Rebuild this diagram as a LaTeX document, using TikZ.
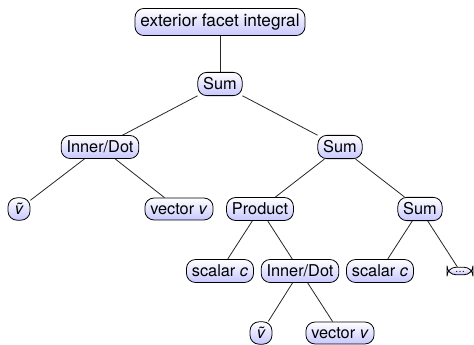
\documentclass[tikz,border=0pt]{standalone}
\usepackage{fontspec}
\setmainfont{TeX Gyre Heros}
\tikzset{
  tnode/.style={draw=black, line width=0.8pt, rounded corners=9pt,
    top color=white, bottom color=blue!22!white,
    font=\fontsize{16.3}{19}\selectfont, inner sep=5.4pt},
  rootnode/.style={tnode, font=\fontsize{17.2}{20}\selectfont},
  vnode/.style={tnode, minimum width=22pt},
  dotsnode/.style={tnode, font=\fontsize{10}{11}\selectfont, inner ysep=2pt,
    text height=3.5pt, text depth=0pt, minimum width=26pt},
  edge/.style={draw=black!85, line width=0.8pt}
}
\begin{document}
\begin{tikzpicture}[x=1pt,y=-1pt]
\useasboundingbox (0,0) rectangle (474,345);
\node[rootnode] (root) at (220,22) {exterior facet integral};
\node[tnode] (s1) at (220,84) {Sum};
\node[tnode] (id1) at (100,147) {Inner/Dot};
\node[tnode] (s2) at (340,147) {Sum};
\node[vnode] (vt1) at (19,209) {\textit{\~{v}}};
\node[tnode] (vv1) at (179,209) {vector \textit{v}};
\node[tnode] (prod) at (260,209) {Product};
\node[tnode] (s3) at (420,209) {Sum};
\node[tnode] (sc1) at (220,271) {scalar \textit{c}};
\node[tnode] (id2) at (300,271) {Inner/Dot};
\node[tnode] (sc2) at (380,271) {scalar \textit{c}};
\node[dotsnode] (dots) at (460,271) {\dots};
\node[vnode] (vt2) at (261,333) {\textit{\~{v}}};
\node[tnode] (vv2) at (340,333) {vector \textit{v}};
\draw[edge] (root) -- (s1);
\draw[edge] (s1) -- (id1);
\draw[edge] (s1) -- (s2);
\draw[edge] (id1) -- (vt1);
\draw[edge] (id1) -- (vv1);
\draw[edge] (s2) -- (prod);
\draw[edge] (s2) -- (s3);
\draw[edge] (prod) -- (sc1);
\draw[edge] (prod) -- (id2);
\draw[edge] (s3) -- (sc2);
\draw[edge] (s3) -- (dots);
\draw[edge] (id2) -- (vt2);
\draw[edge] (id2) -- (vv2);
\end{tikzpicture}
\end{document}
